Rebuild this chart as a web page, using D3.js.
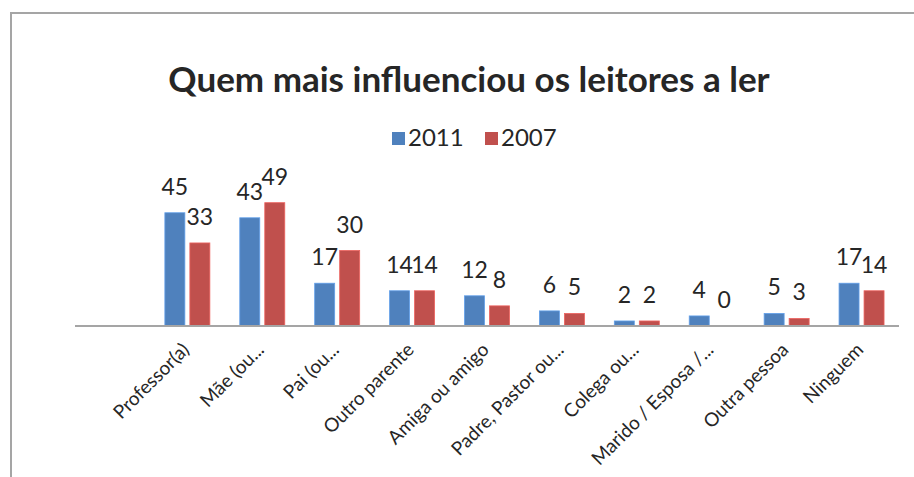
<!DOCTYPE html>
<html>
<head>
<meta charset="UTF-8">
<title>Quem mais influenciou os leitores a ler</title>
<script src="https://cdn.jsdelivr.net/npm/d3@7"></script>
<style>
  body { margin: 0; background: #fff; }
  text { font-family: Lato, "Open Sans", sans-serif; fill: #262626; }
</style>
</head>
<body>
<svg width="914" height="477"></svg>
<script>
// dados
var categories = ["Professor(a)", "Mãe (ou...", "Pai (ou...", "Outro parente", "Amiga ou amigo",
  "Padre, Pastor ou...", "Colega ou...", "Marido / Esposa /...", "Outra pessoa", "Ninguem"];
var series = ["2011", "2007"];
var values2011 = [45, 43, 17, 14, 12, 6, 2, 4, 5, 17];
var values2007 = [33, 49, 30, 14, 8, 5, 2, 0, 3, 14];
var colors = ["#4f81bd", "#c0504d"];

var svg = d3.select("svg");

// moldura
svg.append("path")
  .attr("d", "M11,477 V13 H914")
  .attr("fill", "none")
  .attr("stroke", "#a5a5a5")
  .attr("stroke-width", 2);

// primeira categoria vazia, como no original
var x = d3.scaleBand()
  .domain([""].concat(categories))
  .range([75, 899])
  .padding(0);

var y = d3.scaleLinear().domain([0, 60]).range([326, 175]);

var barW = 20, gap = 5;

var rows = categories.map(function(c, i) {
  return {cat: c, vals: [values2011[i], values2007[i]]};
});

var g = svg.append("g");

var groups = g.selectAll("g.cat")
  .data(rows)
  .enter().append("g")
  .attr("class", "cat")
  .attr("transform", function(d) { return "translate(" + (x(d.cat) + x.bandwidth() / 2) + ",0)"; });

groups.selectAll("rect")
  .data(function(d) { return d.vals; })
  .enter().append("rect")
  .attr("x", function(d, i) { return i == 0 ? -gap / 2 - barW : gap / 2; })
  .attr("y", function(d) { return y(d); })
  .attr("width", barW)
  .attr("height", function(d) { return y(0) - y(d); })
  .attr("fill", function(d, i) { return colors[i]; })
  .attr("stroke", function(d, i) { return d3.color(colors[i]).brighter(0.6); })
  .attr("stroke-width", function(d) { return d > 0 ? 0.8 : 0; });

groups.selectAll("text.val")
  .data(function(d) { return d.vals; })
  .enter().append("text")
  .attr("class", "val")
  .attr("x", function(d, i) { return i == 0 ? -gap / 2 - barW / 2 : gap / 2 + barW / 2; })
  .attr("y", function(d) { return y(d) - 18; })
  .attr("text-anchor", "middle")
  .style("font-size", "23px")
  .text(function(d) { return d; });

// eixo
svg.append("line")
  .attr("x1", x.range()[0]).attr("x2", x.range()[1])
  .attr("y1", y(0)).attr("y2", y(0))
  .attr("stroke", "#a5a5a5")
  .attr("stroke-width", 2);

svg.selectAll("text.cat")
  .data(categories)
  .enter().append("text")
  .attr("class", "cat")
  .attr("text-anchor", "end")
  .style("font-size", "19px")
  .attr("transform", function(d) {
    return "translate(" + (x(d) + x.bandwidth() / 2 + 3) + "," + (y(0) + 25) + ") rotate(-45)";
  })
  .text(function(d) { return d; });

// titulo
svg.append("text")
  .attr("x", 469).attr("y", 92)
  .attr("text-anchor", "middle")
  .style("font-size", "35px")
  .style("font-weight", "bold")
  .text("Quem mais influenciou os leitores a ler");

// legenda
var leg = svg.append("g").attr("transform", "translate(392,146)");
var li = leg.selectAll("g")
  .data(series)
  .enter().append("g")
  .attr("transform", function(d, i) { return "translate(" + (i * 93) + ",0)"; });
li.append("rect")
  .attr("x", 0).attr("y", -14)
  .attr("width", 13).attr("height", 13)
  .attr("fill", function(d, i) { return colors[i]; });
li.append("text")
  .attr("x", 16).attr("y", 0)
  .style("font-size", "24px")
  .text(function(d) { return d; });
</script>
</body>
</html>
